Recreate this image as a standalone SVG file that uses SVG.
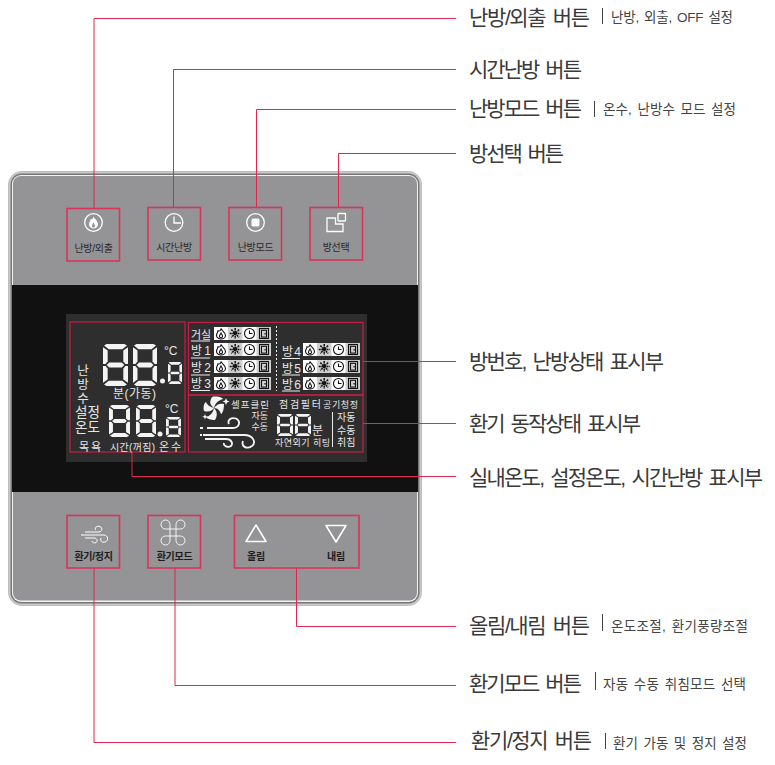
<svg xmlns="http://www.w3.org/2000/svg" xmlns:xlink="http://www.w3.org/1999/xlink" width="775" height="765" viewBox="0 0 775 765">
<style>
text{font-family:"Liberation Sans","Noto Sans CJK KR",sans-serif}
.m{font-size:21px;fill:#3a3a3a;word-spacing:3px}
.s{font-size:13.500px;fill:#444;word-spacing:1.500px}
.b{font-size:10px;fill:#2a2a2a;text-anchor:middle;letter-spacing:-.3px}
.bb{font-size:10px;fill:#1c1c1c;text-anchor:middle;font-weight:700;letter-spacing:-.3px}
.l{fill:#e6e6e6;font-size:11px}
.c{fill:none;stroke:#e0264f;stroke-width:1}
.r{fill:none;stroke:#d9345c;stroke-width:1.6}
.lr{fill:none;stroke:#c41e46;stroke-width:1.2}
.i{fill:none;stroke:#fff;stroke-width:1.3}
.sep{stroke:#444;stroke-width:1}
.u{stroke:#eee;stroke-width:1}
.k{fill:none;stroke:#111;stroke-width:1.100}
</style>
<defs>
<symbol id="d8" viewBox="0 0 24 40" preserveAspectRatio="none">
<g fill="#f4f4f4">
<polygon points="3.500,0 20.500,0 23,1.500 18.500,5 5.500,5 1,1.500"/>
<polygon points="1,38.500 5.500,35 18.500,35 23,38.500 20.500,40 3.500,40"/>
<polygon points="6,17.600 18,17.600 20.500,20 18,22.400 6,22.400 3.500,20"/>
<polygon points="0,3 4.500,6.200 4.500,16.500 2.500,19 0,19"/><polygon points="24,3 19.500,6.200 19.500,16.500 21.500,19 24,19"/>
<polygon points="0,37 4.500,33.800 4.500,23.500 2.500,21 0,21"/><polygon points="24,37 19.500,33.800 19.500,23.500 21.500,21 24,21"/>
</g>
</symbol>
<g id="cells">
<rect width="57" height="13" fill="#fff"/>
<rect x="14" width="14.500" height="13" fill="#cfcfcf"/>
<rect x="42.500" width="14.500" height="13" fill="#cfcfcf"/>
<path class="k" d="M7 1.500C8 4 11.500 5.500 11.500 8.200A4.500 3.800 0 0 1 2.500 8.200C2.500 6.500 4 5.500 4 3.800C5.500 4.500 6.800 3.500 7 1.500ZM7 6C6.200 7.500 5.500 8 5.500 9.200A1.500 1.500 0 0 0 8.500 9.200C8.500 8 7.600 7.500 7 6Z"/>
<g stroke="#111" stroke-width="1.500" stroke-dasharray="2 .6"><path d="M21.200 1V12M15.700 6.500H26.700M17.300 2.600L25.100 10.400M25.100 2.600L17.300 10.400"/></g>
<circle cx="21.200" cy="6.500" r="1.500" fill="#111"/>
<circle class="k" cx="35.500" cy="6.500" r="5"/><path class="k" d="M35.500 3.500V6.500H38.500"/>
<rect class="k" x="45.500" y="1.500" width="9" height="10"/><rect class="k" x="47.500" y="3.300" width="5" height="6.800"/><rect x="50.500" y="6" width="1.200" height="1.500" fill="#111"/>
</g>
</defs>
<rect width="775" height="765" fill="#fff"/>

<g id="panel">
<rect x="8.500" y="171.500" width="413" height="434" rx="13" fill="#c9c9c9" stroke="#bdbdbd"/>
<rect x="10.500" y="173.500" width="409" height="430" rx="11" fill="#777"/>
<rect x="12" y="175" width="406" height="427" rx="9" fill="#f2f2f2"/>
<rect x="13" y="176" width="404" height="424.500" rx="8" fill="#949395"/>
<rect x="12" y="285" width="406" height="207" fill="#111"/>
</g>

<g id="lcd">
<rect x="66" y="314" width="301" height="148" fill="#2e2e2e"/>
<rect class="lr" x="70" y="322" width="115" height="130"/>
<rect class="lr" x="188.500" y="322.500" width="174.500" height="72.500"/>
<rect class="lr" x="188.500" y="395" width="174.500" height="57"/>
</g>

<g id="lcd-temperature">
<use xlink:href="#d8" href="#d8" x="103" y="344" width="25" height="42"/>
<use xlink:href="#d8" href="#d8" x="133" y="344" width="24" height="42"/>
<circle cx="162.500" cy="381" r="2.500" fill="#f2f2f2"/>
<use xlink:href="#d8" href="#d8" x="168" y="362" width="14" height="22"/>
<text class="l" x="164" y="355" style="font-size:12px">°C</text>
<use xlink:href="#d8" href="#d8" x="109" y="405" width="21" height="32"/>
<use xlink:href="#d8" href="#d8" x="136" y="405" width="20" height="32"/>
<circle cx="160" cy="434" r="2.500" fill="#f2f2f2"/>
<use xlink:href="#d8" href="#d8" x="166" y="417" width="15" height="20"/>
<text class="l" x="165" y="413" style="font-size:12px">°C</text>
<text class="l" text-anchor="middle" style="font-size:12.500px"><tspan x="83" y="375">난</tspan><tspan x="83" y="389">방</tspan><tspan x="83" y="403">수</tspan></text>
<text class="l" style="font-size:13.500px"><tspan x="75" y="417">설정</tspan><tspan x="75" y="432">온도</tspan></text>
<text class="l" x="79" y="451" textLength="22" style="font-size:11px">목욕</text>
<text class="l" x="110" y="451" textLength="45" style="font-size:10px">시간(꺼짐)</text>
<text class="l" x="159" y="451" textLength="22" style="font-size:11px">온수</text>
<text class="l" x="113" y="398" textLength="43" style="font-size:12px">분(가동)</text>
</g>

<g id="lcd-rooms">
<use xlink:href="#cells" href="#cells" x="214" y="327"/>
<use xlink:href="#cells" href="#cells" x="214" y="343"/>
<use xlink:href="#cells" href="#cells" x="214" y="360"/>
<use xlink:href="#cells" href="#cells" x="214" y="377"/>
<use xlink:href="#cells" href="#cells" x="303" y="343"/>
<use xlink:href="#cells" href="#cells" x="303" y="360"/>
<use xlink:href="#cells" href="#cells" x="303" y="377"/>
<text class="l" x="191" y="339" textLength="20" style="font-size:11px">거실</text>
<text class="l" x="191" y="355" textLength="20" style="font-size:12px">방 1</text>
<text class="l" x="191" y="372" textLength="20" style="font-size:12px">방2</text>
<text class="l" x="191" y="388" textLength="20" style="font-size:12px">방3</text>
<text class="l" x="282" y="356" textLength="19" style="font-size:12px">방4</text>
<text class="l" x="282" y="373" textLength="19" style="font-size:12px">방5</text>
<text class="l" x="282" y="389" textLength="19" style="font-size:12px">방6</text>
<path class="u" d="M191 341H210M191 358H210M191 375H210M191 390.500H210M282 358.500H300M282 375H300M282 391H300"/>
<path d="M276.500 326V391" stroke="#eee" stroke-width="1" stroke-dasharray="2 2"/>
</g>

<g id="lcd-ventilation">
<g fill="#f4f4f4">
<path d="M214 408C210 405 209 402 212 397C216 396 222 397 223 399C219 400 215 403 214 408Z"/>
<path d="M214 408C217 404 220 403 224 404C224 408 223 413 221 414C220 411 218 408 214 408Z"/>
<path d="M214 408C217 411 218 415 215 420C211 420 207 419 206 417C210 416 213 413 214 408Z"/>
<path d="M214 408C211 412 208 412 204 411C203 407 204 403 206 402C207 405 210 407 214 408Z"/>
<path d="M226 398l1 2.500 2.500 1-2.500 1-1 2.500-1-2.500-2.500-1 2.500-1ZM205 414l.8 2 2 .8-2 .8-.8 2-.8-2-2-.8 2-.8Z"/>
</g>
<path d="M207 428H232C240 428 241 421 236 418.500C231 417 227 420 229 424M203 435H244C254 435 256 443 252 446C246 450 241 446 243 441M205 439H226C232 439 233 444 231 446C228 448 223 446 224 443" fill="none" stroke="#f4f4f4" stroke-width="1.800"/>
<path d="M200 428h3M200 435h2" stroke="#f4f4f4" stroke-width="1.800"/>
<text class="l" x="231" y="408" textLength="38" style="font-size:9.500px">셀프클린</text>
<text class="l" style="font-size:9px" text-anchor="end"><tspan x="268" y="419">자동</tspan><tspan x="268" y="430">수동</tspan></text>
<text class="l" x="279" y="408" textLength="42" style="font-size:10px">점검필터</text>
<text class="l" x="323" y="408" textLength="35" style="font-size:9px">공기청정</text>
<use xlink:href="#d8" href="#d8" x="277" y="414" width="16" height="22"/>
<use xlink:href="#d8" href="#d8" x="295" y="414" width="16" height="22"/>
<text class="l" x="312" y="435" textLength="12" style="font-size:12px">분</text>
<text class="l" x="275" y="446" textLength="55" style="font-size:9px">자연외기 히팅</text>
<path d="M332.500 412V447" stroke="#eee" stroke-width="1"/>
<text class="l" style="font-size:10px"><tspan x="337" y="421">자동</tspan><tspan x="337" y="434">수동</tspan><tspan x="337" y="446">취침</tspan></text>
</g>

<g id="connectors">
<path class="c" d="M94 208V18.500H456"/>
<path class="c" d="M173.500 207V69.500H456"/>
<path class="c" d="M256.500 207V109.500H456"/>
<path class="c" d="M338.500 207V153.500H456"/>
<path class="c" d="M363 361.500H456"/>
<path d="M363 423.500H456" fill="none" stroke="#666" stroke-width="1"/>
<path class="c" d="M132 452V476.500H456"/>
<path class="c" d="M296.500 568V626.500H456"/>
<path class="c" d="M175 568V685.500H456"/>
<path class="c" d="M94 568V742.500H456"/>
</g>

<g id="btn-heat-out">
<rect class="r" x="67" y="208.500" width="52.500" height="52.500"/>
<circle class="i" cx="93.500" cy="222.500" r="8.800"/>
<path d="M93.500 216.500C94.500 219 98 220.500 98 224.500A4.500 4 0 0 1 89 224.500C89 222 90.500 221 90.800 219C92 219.800 93.200 218.500 93.500 216.500ZM93.500 222C93 224 92 224.500 92 226A1.500 1.500 0 0 0 95 226C95 224.500 94 224 93.500 222Z" fill="#fff" fill-rule="evenodd"/>
<text class="b" x="93.500" y="252">난방/외출</text>
</g>
<g id="btn-time">
<rect class="r" x="148" y="207.500" width="52.500" height="52.500"/>
<circle class="i" cx="174" cy="222.500" r="8.800"/>
<path class="i" d="M174 216.500V223H181"/>
<text class="b" x="174" y="251">시간난방</text>
</g>
<g id="btn-heat-mode">
<rect class="r" x="229" y="207.500" width="52.500" height="52.500"/>
<circle class="i" cx="255.500" cy="222.500" r="8.800"/>
<rect x="251.500" y="218.500" width="8" height="8" rx="1.500" fill="#fff"/>
<text class="b" x="255.500" y="251">난방모드</text>
</g>
<g id="btn-room">
<rect class="r" x="310" y="207.500" width="52.500" height="52.500"/>
<path class="i" d="M327 218H335.500V224H343V231.500H327Z"/>
<rect class="i" x="338" y="213.500" width="7.500" height="7.500" rx=".5"/>
<text class="b" x="336" y="251">방선택</text>
</g>
<g id="btn-vent">
<rect class="r" x="67" y="515.500" width="52.500" height="52.500"/>
<path d="M85 532H99C102 532 103 528 100 526.500C97 525.500 94.500 527.500 95.500 530M81 535H104C108 535 109 541 105 542C102 543 100 541 101 538M85 538H94C97 538 98 541 96 542.500C94 543.500 92 542.500 92 541" fill="none" stroke="#fff" stroke-width="1"/>
<text class="bb" x="93.500" y="560">환기/정지</text>
</g>
<g id="btn-vent-mode">
<rect class="r" x="148" y="515.500" width="52.500" height="52.500"/>
<path d="M170 530V524.500A4.500 4.500 0 1 0 165.500 529H180.500A4.500 4.500 0 1 0 176 524.500V540.500A4.500 4.500 0 1 0 180.500 536H165.500A4.500 4.500 0 1 0 170 540.500V530" fill="none" stroke="#fff" stroke-width=".9"/>
<text class="bb" x="174.500" y="560">환기모드</text>
</g>
<g id="btn-updown">
<rect class="r" x="234.500" y="515.500" width="124.500" height="52.500"/>
<path d="M246 541.500L256 525L266 541.500Z" fill="none" stroke="#fff" stroke-width="1.600" stroke-linejoin="round"/>
<path d="M326 525.500H346L336 542Z" fill="none" stroke="#fff" stroke-width="1.600" stroke-linejoin="round"/>
<text class="bb" x="256" y="560">올림</text>
<text class="bb" x="336" y="560">내림</text>
</g>

<g id="labels">
<text class="m" x="469" y="25" textLength="121">난방/외출 버튼</text>
<text class="m" x="469" y="77" textLength="113">시간난방 버튼</text>
<text class="m" x="469" y="116" textLength="113">난방모드 버튼</text>
<text class="m" x="469" y="161" textLength="95">방선택 버튼</text>
<text class="m" x="469" y="369" textLength="195">방번호, 난방상태 표시부</text>
<text class="m" x="469" y="431" textLength="172">환기 동작상태 표시부</text>
<text class="m" x="469" y="485" textLength="294">실내온도, 설정온도, 시간난방 표시부</text>
<text class="m" x="469" y="633" textLength="121">올림/내림 버튼</text>
<text class="m" x="469" y="691" textLength="113">환기모드 버튼</text>
<text class="m" x="471" y="748" textLength="121">환기/정지 버튼</text>
<text class="s" x="611" y="22" textLength="122">난방, 외출, OFF 설정</text>
<text class="s" x="603" y="114" textLength="133">온수, 난방수 모드 설정</text>
<text class="s" x="611" y="631" textLength="137">온도조절, 환기풍량조절</text>
<text class="s" x="603" y="689" textLength="143">자동 수동 취침모드 선택</text>
<text class="s" x="613" y="748" textLength="134">환기 가동 및 정지 설정</text>
<path class="sep" d="M602.500 8V24M594.500 101V117M602.500 614V631M595.500 672V690M605.500 733V749"/>
</g>
</svg>
